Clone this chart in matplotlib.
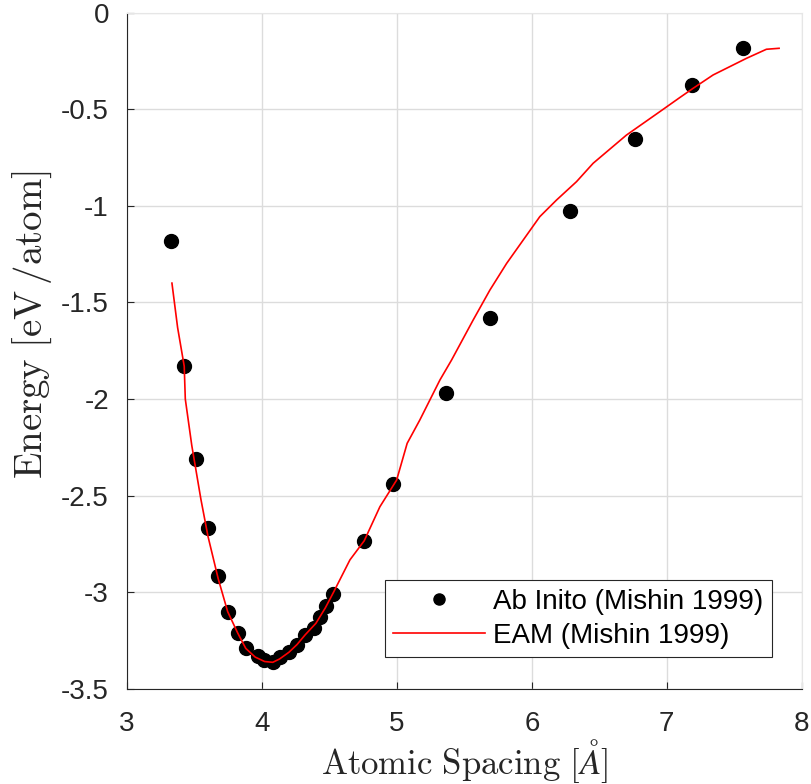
import numpy as np
import matplotlib.pyplot as plt

plt.rcParams['mathtext.fontset'] = 'cm'
plt.rcParams['font.family'] = ['Liberation Sans', 'DejaVu Sans']

# ab initio points (Mishin 1999)
abx = [3.326, 3.422, 3.511, 3.598, 3.676, 3.746, 3.820, 3.881, 3.968, 4.017,
       4.079, 4.133, 4.202, 4.257, 4.319, 4.383, 4.430, 4.474, 4.528, 4.758,
       4.973, 5.363, 5.689, 6.281, 6.763, 7.188, 7.568]
aby = [-1.182, -1.829, -2.310, -2.665, -2.915, -3.103, -3.212, -3.289, -3.329, -3.350,
       -3.359, -3.336, -3.307, -3.272, -3.220, -3.183, -3.126, -3.071, -3.009, -2.733,
       -2.439, -1.967, -1.580, -1.027, -0.655, -0.377, -0.182]

# EAM curve
eamx = [3.333, 3.375, 3.424, 3.432, 3.48, 3.548, 3.60, 3.676, 3.746, 3.82,
        3.88, 3.95, 4.02, 4.08, 4.13, 4.20, 4.26, 4.32, 4.40, 4.47,
        4.53, 4.652, 4.758, 4.874, 4.998, 5.076, 5.170, 5.319, 5.405, 5.565,
        5.689, 5.813, 5.936, 6.059, 6.183, 6.331, 6.454, 6.701, 6.948, 7.096,
        7.195, 7.343, 7.590, 7.738, 7.832]
eamy = [-1.40, -1.63, -1.83, -2.00, -2.24, -2.52, -2.71, -2.93, -3.10, -3.21,
        -3.29, -3.335, -3.358, -3.362, -3.345, -3.31, -3.27, -3.22, -3.16, -3.08,
        -3.00, -2.832, -2.733, -2.557, -2.419, -2.229, -2.108, -1.901, -1.798, -1.591,
        -1.436, -1.298, -1.177, -1.056, -0.970, -0.875, -0.780, -0.634, -0.513, -0.44,
        -0.392, -0.323, -0.237, -0.190, -0.185]

fig = plt.figure(figsize=(8.11, 7.84), dpi=100)
ax = fig.add_axes([0.1566, 0.1212, 0.832, 0.8628])

ax.plot(abx, aby, 'o', color='black', markersize=10, label='Ab Inito (Mishin 1999)', zorder=3)
ax.plot(eamx, eamy, '-', color='red', lw=1.2, label='EAM (Mishin 1999)', zorder=4)

ax.set_xlim(3, 8)
ax.set_ylim(-3.5, 0)
ax.set_xticks([3, 4, 5, 6, 7, 8])
ax.set_xticklabels(['3', '4', '5', '6', '7', '8'])
ax.set_yticks([-3.5, -3, -2.5, -2, -1.5, -1, -0.5, 0])
ax.set_yticklabels(['-3.5', '-3', '-2.5', '-2', '-1.5', '-1', '-0.5', '0'])
ax.grid(True, color='#dcdcdc', lw=1)
ax.set_axisbelow(True)
ax.tick_params(direction='in', length=5, labelsize=20, colors='#262626')
ax.tick_params(axis='x', pad=16)
ax.tick_params(axis='y', pad=13)
for s in ['top', 'right']:
    ax.spines[s].set_color('#e6e6e6')
for s in ['left', 'bottom']:
    ax.spines[s].set_color('#262626')

ax.set_xlabel(r'$\mathrm{Atomic\ Spacing\ [}\AA\mathrm{]}$', fontsize=25, color='#262626', labelpad=0)
ax.set_ylabel(r'$\mathrm{Energy\ [eV\,/atom]}$', fontsize=28, color='#262626')
ax.yaxis.set_label_coords(-0.108, 0.538)

leg = ax.legend(loc='lower right', bbox_to_anchor=(0.9555, 0.047), borderaxespad=0,
                fontsize=20, markerscale=0.8, fancybox=False, framealpha=1,
                edgecolor='#262626', handlelength=3.3, handletextpad=0.3,
                borderpad=0.3, labelspacing=0.3)
leg.get_frame().set_linewidth(0.8)

fig.savefig('out.png', dpi=100)
